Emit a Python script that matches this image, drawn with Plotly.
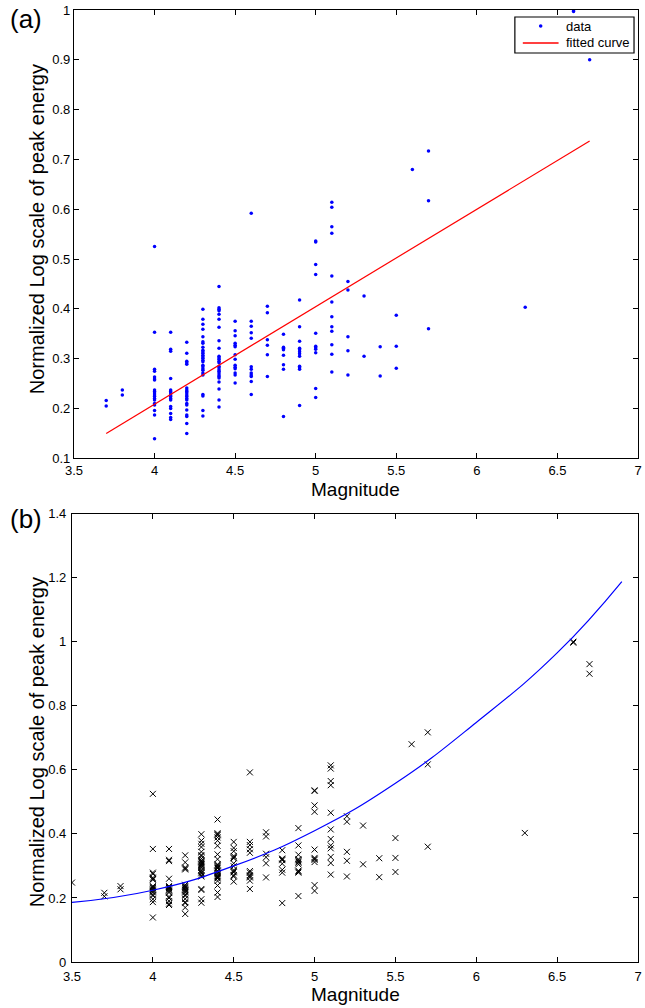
import plotly.graph_objects as go

# ---- data ----
mag_levels = [3.7, 3.8, 4.0, 4.1, 4.2, 4.3, 4.4, 4.5, 4.6, 4.7, 4.8, 4.9,
              5.0, 5.1, 5.2, 5.3, 5.4, 5.5, 5.6, 5.7, 6.3, 6.6, 6.7]
energy_groups = [
    [0.216, 0.205],
    [0.237, 0.227],
    [0.525, 0.353, 0.279, 0.275, 0.263, 0.259, 0.257, 0.237, 0.234, 0.231,
     0.227, 0.224, 0.220, 0.217, 0.210, 0.207, 0.196, 0.187, 0.139],
    [0.353, 0.319, 0.315, 0.260, 0.237, 0.234, 0.231, 0.227, 0.224, 0.220,
     0.217, 0.204, 0.200, 0.190, 0.182, 0.178],
    [0.333, 0.311, 0.295, 0.292, 0.289, 0.241, 0.237, 0.234, 0.231, 0.227,
     0.224, 0.220, 0.217, 0.210, 0.207, 0.197, 0.187, 0.184, 0.170, 0.150],
    [0.399, 0.379, 0.369, 0.359, 0.344, 0.334, 0.331, 0.323, 0.317, 0.314,
     0.311, 0.307, 0.304, 0.301, 0.297, 0.294, 0.287, 0.284, 0.280, 0.277,
     0.271, 0.267, 0.228, 0.225, 0.196, 0.185],
    [0.445, 0.402, 0.399, 0.396, 0.389, 0.379, 0.363, 0.336, 0.321, 0.305,
     0.302, 0.299, 0.295, 0.292, 0.285, 0.282, 0.278, 0.275, 0.271, 0.267,
     0.264, 0.261, 0.253, 0.239, 0.217, 0.203],
    [0.375, 0.356, 0.346, 0.331, 0.327, 0.324, 0.308, 0.299, 0.287, 0.283,
     0.280, 0.271, 0.267, 0.251],
    [0.592, 0.375, 0.365, 0.352, 0.341, 0.284, 0.279, 0.271, 0.267, 0.264,
     0.254, 0.228],
    [0.405, 0.392, 0.338, 0.327, 0.308, 0.264],
    [0.349, 0.323, 0.321, 0.318, 0.307, 0.288, 0.279, 0.184],
    [0.418, 0.364, 0.335, 0.321, 0.318, 0.314, 0.310, 0.305, 0.285, 0.282,
     0.279, 0.206],
    [0.536, 0.534, 0.489, 0.469, 0.351, 0.325, 0.322, 0.319, 0.312, 0.240,
     0.222],
    [0.614, 0.604, 0.565, 0.552, 0.466, 0.414, 0.384, 0.364, 0.355, 0.328,
     0.309, 0.273],
    [0.455, 0.438, 0.344, 0.316, 0.267],
    [0.426, 0.305],
    [0.324, 0.265],
    [0.387, 0.325, 0.281],
    [0.680],
    [0.717, 0.617, 0.360],
    [0.403],
    [1.000, 0.997],
    [0.930, 0.900],
]
# extra point visible only in panel (b)
extra_b_mag = [3.5]
extra_b_energy = [0.248]

# fitted straight line (panel a), end points
fit_a_x = [3.7, 6.7]
fit_a_y = [0.150, 0.737]

# fitted curve (panel b)
fit_b_x = [3.5, 4.0, 4.5, 5.0, 5.5, 6.0, 6.5, 6.9]
fit_b_y = [0.186, 0.224, 0.300, 0.410, 0.558, 0.748, 0.965, 1.188]

x_ticks = [3.5, 4, 4.5, 5, 5.5, 6, 6.5, 7]
x_tick_text = ["3.5", "4", "4.5", "5", "5.5", "6", "6.5", "7"]
ya_ticks = [0.1, 0.2, 0.3, 0.4, 0.5, 0.6, 0.7, 0.8, 0.9, 1.0]
ya_tick_text = ["0.1", "0.2", "0.3", "0.4", "0.5", "0.6", "0.7", "0.8", "0.9", "1"]
yb_ticks = [0, 0.2, 0.4, 0.6, 0.8, 1.0, 1.2, 1.4]
yb_tick_text = ["0", "0.2", "0.4", "0.6", "0.8", "1", "1.2", "1.4"]

legend_labels = ["data", "fitted curve"]

# ---- flatten ----
mags, energy = [], []
for m, grp in zip(mag_levels, energy_groups):
    for v in grp:
        mags.append(m)
        energy.append(v)

FONT = "Liberation Sans, Arial, Helvetica, sans-serif"

fig = go.Figure()

fig.add_trace(go.Scatter(
    x=mags, y=energy, mode="markers", name=legend_labels[0],
    marker=dict(color="#0000ff", size=3.5, symbol="circle"),
    xaxis="x", yaxis="y", showlegend=False))
fig.add_trace(go.Scatter(
    x=fit_a_x, y=fit_a_y, mode="lines", name=legend_labels[1],
    line=dict(color="#ff0000", width=1.2),
    xaxis="x", yaxis="y", showlegend=False))

fig.add_trace(go.Scatter(
    x=extra_b_mag + mags, y=extra_b_energy + energy, mode="markers",
    marker=dict(color="black", size=6, symbol="x-thin",
                line=dict(color="black", width=1)),
    xaxis="x2", yaxis="y2", showlegend=False))
fig.add_trace(go.Scatter(
    x=fit_b_x, y=fit_b_y, mode="lines",
    line=dict(color="#0000ff", width=1.2, shape="spline", smoothing=1.3),
    xaxis="x2", yaxis="y2", showlegend=False))

axis_common = dict(
    showgrid=False, zeroline=False, showline=True, linecolor="black",
    linewidth=1.2, mirror="ticks", ticks="inside", ticklen=5,
    tickcolor="black", tickwidth=1, ticklabeloverflow="allow",
    tickfont=dict(family=FONT, size=13, color="black"),
)

fig.update_layout(
    width=645, height=1008,
    margin=dict(l=72, r=3, t=10, b=46),
    paper_bgcolor="white", plot_bgcolor="white",
    font=dict(family=FONT, color="black"),
    showlegend=False,
    xaxis=dict(domain=[0.0035, 1.0], range=[3.5, 7], tickvals=x_ticks,
               ticktext=x_tick_text, anchor="y", **axis_common),
    yaxis=dict(domain=[0.5291, 1.0], range=[0.1, 1.0], tickvals=ya_ticks,
               ticktext=ya_tick_text, anchor="x", **axis_common),
    xaxis2=dict(domain=[0.0, 1.0], range=[3.5, 7], tickvals=x_ticks,
                ticktext=x_tick_text, anchor="y2", ticklabelstandoff=2,
                **axis_common),
    yaxis2=dict(domain=[0.0, 0.471], range=[0, 1.4], tickvals=yb_ticks,
                ticktext=yb_tick_text, anchor="x2", ticklabelstandoff=2,
                **axis_common),
)

def px_to_paper(px, py):
    return (px - 72) / 570.0, (962 - py) / 952.0

annots = []
shapes = []
for label, (px, py) in [("(a)", (8, 19)), ("(b)", (8, 519))]:
    x, y = px_to_paper(px, py)
    annots.append(dict(text=label, x=x, y=y, xref="paper", yref="paper",
                       xanchor="left", yanchor="middle", showarrow=False,
                       font=dict(family=FONT, size=26, color="black")))
for (px, py) in [(37, 229), (37, 742)]:
    x, y = px_to_paper(px, py)
    annots.append(dict(text="Normalized Log scale of peak energy", x=x, y=y,
                       xref="paper", yref="paper", textangle=-90,
                       xanchor="center", yanchor="middle", showarrow=False,
                       font=dict(family=FONT, size=20, color="black")))
for (px, py) in [(358, 489), (357, 994)]:
    x, y = px_to_paper(px, py)
    annots.append(dict(text="Magnitude", x=x, y=y, xref="paper", yref="paper",
                       xanchor="center", yanchor="middle", showarrow=False,
                       font=dict(family=FONT, size=19, color="black")))

# ---- legend box drawn by hand (panel a) ----
bx0, by0 = px_to_paper(518, 53)
bx1, by1 = px_to_paper(638, 17)
shapes.append(dict(type="rect", xref="paper", yref="paper", x0=bx0, y0=by0,
                   x1=bx1, y1=by1, fillcolor="white",
                   line=dict(color="black", width=1.2), layer="above"))
dx0, dy0 = px_to_paper(542.2, 27.8)
dx1, dy1 = px_to_paper(545.8, 24.2)
shapes.append(dict(type="circle", xref="paper", yref="paper", x0=dx0, y0=dy0,
                   x1=dx1, y1=dy1, fillcolor="#0000ff",
                   line=dict(color="#0000ff", width=0), layer="above"))
lx0, ly0 = px_to_paper(526, 43)
lx1, _ = px_to_paper(562, 43)
shapes.append(dict(type="line", xref="paper", yref="paper", x0=lx0, y0=ly0,
                   x1=lx1, y1=ly0, line=dict(color="#ff0000", width=1.4),
                   layer="above"))
for label, py in zip(legend_labels, [26, 43]):
    x, y = px_to_paper(567, py)
    annots.append(dict(text=label, x=x, y=y, xref="paper", yref="paper",
                       xanchor="left", yanchor="middle", showarrow=False,
                       font=dict(family=FONT, size=13, color="black")))

fig.update_layout(annotations=annots, shapes=shapes)

fig.write_html("out.html")
